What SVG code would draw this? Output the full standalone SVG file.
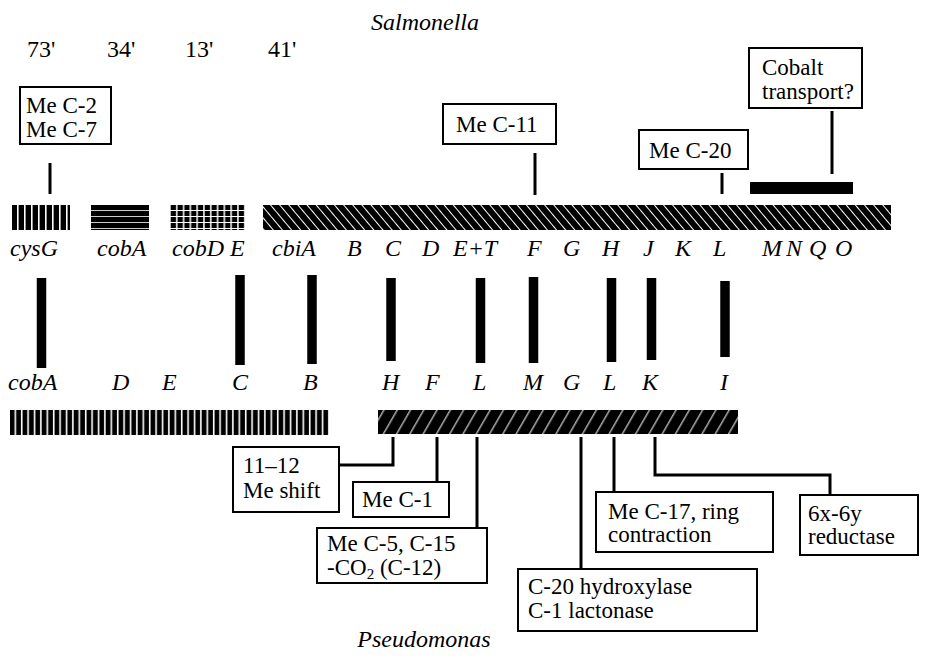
<svg xmlns="http://www.w3.org/2000/svg" width="930" height="660" viewBox="0 0 930 660" font-family="'Liberation Serif', 'Times New Roman', serif" font-size="24">
<style>
text{font-family:'Liberation Serif','Times New Roman',serif;font-size:24px;fill:#000}
.it{font-style:italic}
.bt{font-size:23px}
.box{fill:#fff;stroke:#000;stroke-width:2}
.con{fill:none;stroke:#000;stroke-width:3}
.hom{stroke:#000;stroke-width:9.5}
</style>
<defs>
<pattern id="pV" width="7" height="10" patternUnits="userSpaceOnUse" x="12">
<rect width="7" height="10" fill="#000"/><rect x="5" width="1.6" height="10" fill="#fff"/>
</pattern>
<pattern id="pH" width="10" height="6" patternUnits="userSpaceOnUse" y="205">
<rect width="10" height="6" fill="#000"/><rect y="5.2" width="10" height="1.4" fill="#fff"/>
</pattern>
<pattern id="pG" width="6.8" height="6" patternUnits="userSpaceOnUse" x="171" y="205">
<rect width="6.8" height="6" fill="#000"/><rect x="5" width="1.5" height="6" fill="#fff"/><rect y="5" width="6.8" height="1.4" fill="#fff"/>
</pattern>
<pattern id="pB" width="7" height="10" patternUnits="userSpaceOnUse" patternTransform="rotate(-40)">
<rect width="7" height="10" fill="#000"/><rect x="5" width="1" height="10" fill="#fff"/>
</pattern>
<pattern id="pV2" width="6.4" height="10" patternUnits="userSpaceOnUse" x="10">
<rect width="6.4" height="10" fill="#000"/><rect x="4.5" width="1.6" height="10" fill="#fff"/>
</pattern>
<pattern id="pF" width="11.5" height="10" patternUnits="userSpaceOnUse" patternTransform="rotate(30)">
<rect width="11.5" height="10" fill="#000"/><rect x="8" width="1" height="10" fill="#fff"/>
</pattern>
</defs>
<rect width="930" height="660" fill="#fff"/>

<g id="title-salmonella"><text class="it" x="425" y="30" text-anchor="middle">Salmonella</text></g>
<g id="map-positions">
<text x="27" y="57">73'</text><text x="107" y="57">34'</text><text x="185" y="57">13'</text><text x="268" y="57">41'</text>
</g>

<g id="bar-cysG"><rect x="12" y="205" width="58" height="25" fill="url(#pV)"/></g>
<g id="bar-cobA"><rect x="91" y="205" width="58" height="25" fill="url(#pH)"/></g>
<g id="bar-cobD"><rect x="170" y="205" width="75" height="25" fill="url(#pG)"/></g>
<g id="bar-cbi"><rect x="263" y="205" width="628" height="25" fill="url(#pB)"/></g>
<g id="bar-cobalt"><rect x="750" y="182" width="103" height="12" fill="#000"/></g>

<g id="salmonella-genes">
<text class="it" x="10" y="256">cysG</text>
<text class="it" x="97" y="256">cobA</text>
<text class="it" x="172" y="256">cobD E</text>
<text class="it" x="272" y="256">cbiA</text>
<text class="it" x="347" y="256">B</text>
<text class="it" x="385" y="256">C</text>
<text class="it" x="422" y="256">D</text>
<text class="it" x="453" y="256">E+T</text>
<text class="it" x="527" y="256">F</text>
<text class="it" x="563" y="256">G</text>
<text class="it" x="602" y="256">H</text>
<text class="it" x="643" y="256">J</text>
<text class="it" x="675" y="256">K</text>
<text class="it" x="713" y="256">L</text>
<text class="it" x="762" y="256">M</text>
<text class="it" x="786" y="256">N</text>
<text class="it" x="809" y="256">Q</text>
<text class="it" x="835" y="256">O</text>
</g>

<g id="box-meC2"><rect class="box" x="20" y="87" width="91" height="57"/><text class="bt" x="26" y="113">Me C-2</text><text class="bt" x="26" y="137">Me C-7</text></g>
<g id="box-meC11"><rect class="box" x="443" y="104" width="113" height="40"/><text class="bt" x="456" y="132">Me C-11</text></g>
<g id="box-meC20"><rect class="box" x="639" y="130" width="109" height="39"/><text class="bt" x="649" y="158">Me C-20</text></g>
<g id="box-cobalt"><rect class="box" x="749" y="48" width="113" height="60"/><text class="bt" x="762" y="75">Cobalt</text><text class="bt" x="762" y="99">transport?</text></g>

<g id="pseudomonas-genes">
<text class="it" x="8" y="390">cobA</text>
<text class="it" x="112" y="390">D</text>
<text class="it" x="162" y="390">E</text>
<text class="it" x="232" y="390">C</text>
<text class="it" x="303" y="390">B</text>
<text class="it" x="382" y="390">H</text>
<text class="it" x="425" y="390">F</text>
<text class="it" x="473" y="390">L</text>
<text class="it" x="523" y="390">M</text>
<text class="it" x="563" y="390">G</text>
<text class="it" x="603" y="390">L</text>
<text class="it" x="642" y="390">K</text>
<text class="it" x="720" y="390">I</text>
</g>

<g id="bar-pseudo-left"><rect x="10" y="410" width="319" height="25" fill="url(#pV2)"/></g>
<g id="bar-pseudo-right"><rect x="378" y="410" width="360" height="24" fill="url(#pF)"/></g>

<g id="box-1112"><rect class="box" x="233" y="447" width="106" height="65"/><text class="bt" x="243" y="473">11–12</text><text class="bt" x="243" y="498">Me shift</text></g>
<g id="box-meC1"><rect class="box" x="353" y="482" width="96" height="35"/><text class="bt" x="362" y="507">Me C-1</text></g>
<g id="box-meC5"><rect class="box" x="317" y="528" width="170" height="55"/><text class="bt" x="327" y="551">Me C-5, C-15</text><text class="bt" x="327" y="575">-CO<tspan font-size="15" dy="4">2</tspan><tspan dy="-4"> (C-12)</tspan></text></g>
<g id="box-c20"><rect class="box" x="518" y="569" width="239" height="62"/><text class="bt" x="528" y="594">C-20 hydroxylase</text><text class="bt" x="528" y="618">C-1 lactonase</text></g>
<g id="box-meC17"><rect class="box" x="596" y="492" width="177" height="60"/><text class="bt" x="608" y="519">Me C-17, ring</text><text class="bt" x="608" y="542">contraction</text></g>
<g id="box-6x6y"><rect class="box" x="800" y="495" width="118" height="60"/><text class="bt" x="808" y="521">6x-6y</text><text class="bt" x="808" y="544">reductase</text></g>

<g id="title-pseudomonas"><text class="it" x="424" y="647" text-anchor="middle">Pseudomonas</text></g>

<g id="connectors">
<line class="con" x1="50" y1="163" x2="50" y2="194"/>
<line class="con" x1="535" y1="153" x2="535" y2="195"/>
<line class="con" x1="722" y1="173" x2="722" y2="194"/>
<line class="con" x1="832" y1="111" x2="832" y2="174"/>
<line class="hom" x1="41.5" y1="278" x2="41.5" y2="368"/>
<line class="hom" x1="240" y1="275" x2="240" y2="365"/>
<line class="hom" x1="312" y1="275" x2="312" y2="364"/>
<line class="hom" x1="391" y1="278" x2="391" y2="361"/>
<line class="hom" x1="480.5" y1="278" x2="480.5" y2="363"/>
<line class="hom" x1="533.5" y1="277" x2="533.5" y2="363"/>
<line class="hom" x1="611.5" y1="278" x2="611.5" y2="362"/>
<line class="hom" x1="651.5" y1="278" x2="651.5" y2="360"/>
<line class="hom" x1="725" y1="281" x2="725" y2="357"/>
<polyline class="con" points="393,437 393,465 339,465"/>
<line class="con" x1="437" y1="437" x2="437" y2="482"/>
<line class="con" x1="477" y1="437" x2="477" y2="528"/>
<line class="con" x1="581" y1="437" x2="581" y2="569"/>
<line class="con" x1="614" y1="437" x2="614" y2="492"/>
<polyline class="con" points="655,437 655,475 830,475 830,495"/>
</g>
</svg>
